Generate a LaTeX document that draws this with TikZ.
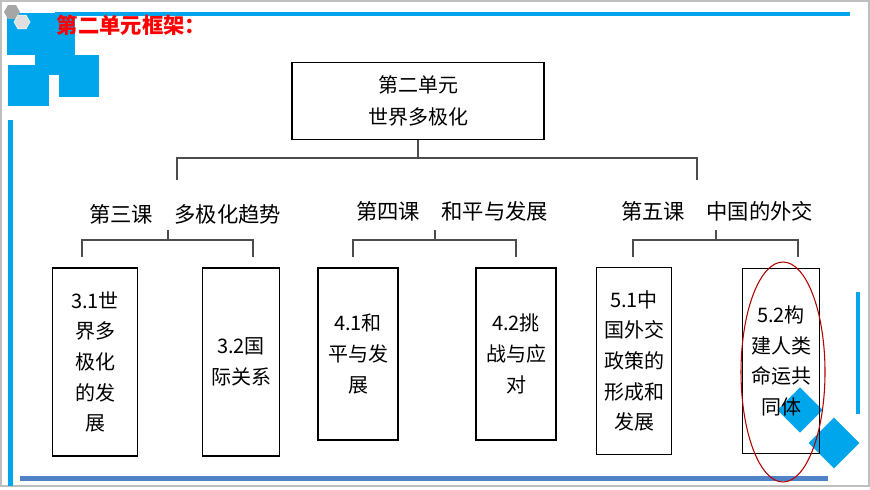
\documentclass[tikz,border=0pt]{standalone}
\usepackage{fontspec}
\setmainfont{Liberation Serif}
\newfontfamily\cjk{Noto Sans CJK SC}
\usetikzlibrary{positioning,shapes.geometric}
\definecolor{barblue}{RGB}{0,166,236}
\definecolor{lineblue}{RGB}{80,130,200}
\tikzset{
  lessonbox/.style={draw, line width=0.9pt, minimum width=60pt, align=center, inner sep=2pt, font=\cjk\fontsize{15}{23}\selectfont},
  unitlabel/.style={font=\cjk\fontsize{16}{20}\selectfont},
  bracket/.style={line width=0.8pt, draw=black!70}
}
\begin{document}
\begin{tikzpicture}[x=0.75pt,y=-0.75pt]
\useasboundingbox (0,0) rectangle (870,489);
\draw [gray!50, line width=1pt] (1,1) rectangle (869,486);

% blue decorations
\fill [barblue] (55,12) rectangle (850,16);
\fill [barblue] (7,13) rectangle (75,55);
\fill [barblue] (35,55) rectangle (99,75);
\fill [barblue] (8,65) rectangle (99,75);
\fill [barblue] (8,75) rectangle (49,106);
\fill [barblue] (59,75) rectangle (99,97);
\fill [barblue] (8,120) rectangle (13,486);
\fill [barblue] (856,292) rectangle (860,414);
\fill [lineblue] (20,476) rectangle (828,481);
\node [regular polygon, regular polygon sides=6, fill=gray!70, minimum size=12pt, inner sep=0pt] at (12,12) {};
\node [regular polygon, regular polygon sides=6, fill=gray!25, draw=white, minimum size=12pt, inner sep=0pt] at (22,22) {};
\fill [barblue, rotate around={45:(800,410)}] (784,394) rectangle (816,426);
\fill [barblue, rotate around={45:(834,443)}] (816,425) rectangle (852,461);

\node [font=\cjk\bfseries\fontsize{16}{18}\selectfont, text=red, anchor=west] (title) at (52,25) {第二单元框架：};

% top box
\node [draw, line width=0.9pt, minimum width=189pt, minimum height=58pt, align=center, font=\cjk\fontsize{15}{24}\selectfont] (unit) at (418,101) {第二单元\\世界多极化};

% first bracket
\coordinate (b0) at (418,158);
\draw [bracket] (unit.south) -- (b0);
\draw [bracket] (177,180) -- (177,158) -- (697,158) -- (697,180);

\node [unitlabel] (l3) at (185,214) {第三课\quad 多极化趋势};
\node [unitlabel] (l4) at (452,211) {第四课\quad 和平与发展};
\node [unitlabel] (l5) at (717,211) {第五课\quad 中国的外交};

% second brackets
\draw [bracket] (82,257) -- (82,240) -- (253,240) -- (253,257);
\draw [bracket] (168,240) -- (168,230);
\draw [bracket] (353,257) -- (353,240) -- (516,240) -- (516,257);
\draw [bracket] (435,240) -- (435,230);
\draw [bracket] (633,257) -- (633,240) -- (798,240) -- (798,257);
\draw [bracket] (716,240) -- (716,230);

% lesson boxes
\node [lessonbox, minimum width=64pt, minimum height=141pt] (s31) at (95,362) {3.1世\\界多\\极化\\的发\\展};
\node [lessonbox, minimum width=58pt, minimum height=141pt] (s32) at (241,362) {3.2国\\际关系};
\node [lessonbox, minimum width=60pt, minimum height=129pt] (s41) at (358,354) {4.1和\\平与发\\展};
\node [lessonbox, minimum width=60pt, minimum height=129pt] (s42) at (516,354) {4.2挑\\战与应\\对};
\node [lessonbox, minimum width=56pt, minimum height=140pt] (s51) at (634,361) {5.1中\\国外交\\政策的\\形成和\\发展};
\node [lessonbox, minimum width=58pt, minimum height=139pt] (s52) at (781,361) {5.2构\\建人类\\命运共\\同体};

\draw [red!70!black, line width=0.8pt] (783,372) ellipse [x radius=42, y radius=110];
\end{tikzpicture}
\end{document}
